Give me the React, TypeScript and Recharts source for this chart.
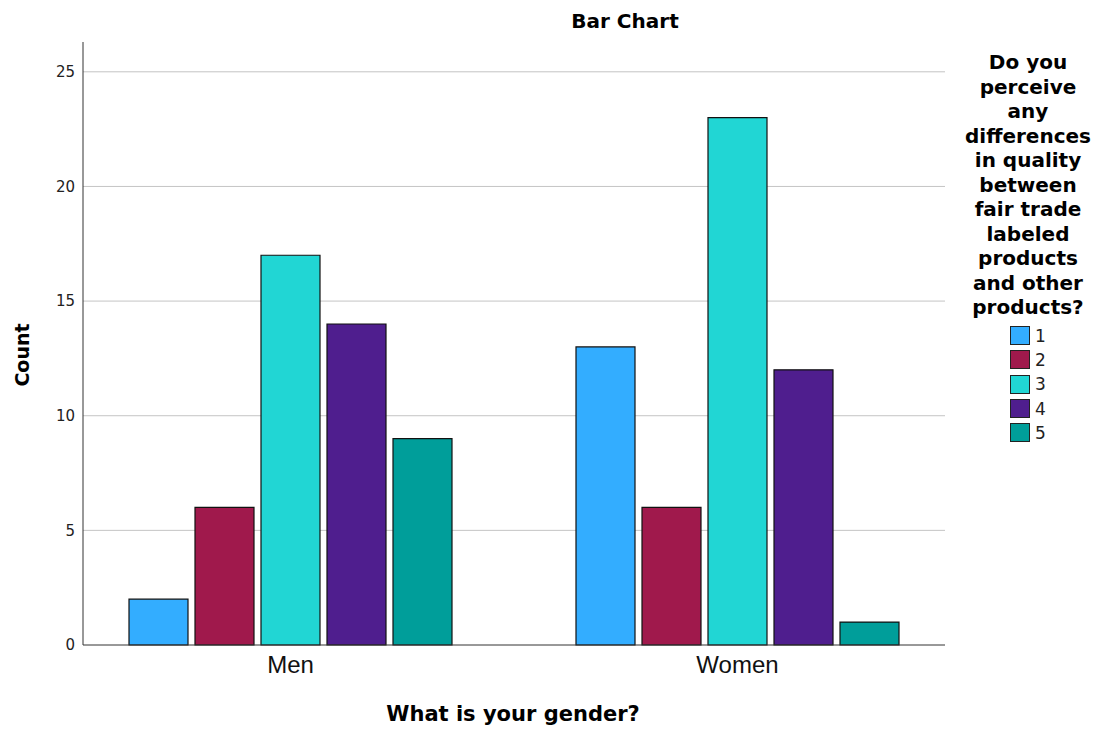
import { BarChart, Bar, XAxis, YAxis, CartesianGrid } from "recharts";

const genders = ["Men", "Women"];
const answers = ["1", "2", "3", "4", "5"];
const answer1 = [2, 13];
const answer2 = [6, 6];
const answer3 = [17, 23];
const answer4 = [14, 12];
const answer5 = [9, 1];
const yTicks = [0, 5, 10, 15, 20, 25];
const colors = ["#33adff", "#a0194c", "#21d6d4", "#4f1e8e", "#009e9a"];
const legendTitle = [
  "Do you",
  "perceive",
  "any",
  "differences",
  "in quality",
  "between",
  "fair trade",
  "labeled",
  "products",
  "and other",
  "products?",
];

const series = [answer1, answer2, answer3, answer4, answer5];

const data = genders.map((g, i) => {
  const row: Record<string, string | number> = { gender: g };
  answers.forEach((a, k) => {
    row["a" + a] = series[k][i];
  });
  return row;
});

const font = "'DejaVu Sans', sans-serif";

const LegendBox = () => (
  <div
    style={{
      position: "absolute",
      left: 955,
      top: 50,
      fontFamily: font,
      width: 146,
      textAlign: "center",
    }}
  >
    <div style={{ fontWeight: "bold", fontSize: 20, lineHeight: "24.5px", color: "#000" }}>
      {legendTitle.map((t) => (
        <div key={t}>{t}</div>
      ))}
    </div>
    <div style={{ marginTop: 4, display: "inline-block", textAlign: "left" }}>
      {answers.map((a, k) => (
        <div key={a} style={{ display: "flex", alignItems: "center", height: 24.3 }}>
          <span
            style={{
              display: "inline-block",
              width: 18,
              height: 17,
              background: colors[k],
              border: "1px solid #222",
              marginRight: 5,
            }}
          />
          <span style={{ fontSize: 17, color: "#222" }}>{a}</span>
        </div>
      ))}
    </div>
  </div>
);

export default function App() {
  return (
    <div style={{ position: "absolute", left: 0, top: 0, width: 1106, height: 729, background: "#fff" }}>
      <div
        style={{
          position: "absolute",
          left: 525,
          width: 200,
          top: 9,
          textAlign: "center",
          fontFamily: font,
          fontWeight: "bold",
          fontSize: 20,
        }}
      >
        Bar Chart
      </div>
      <div
        style={{
          position: "absolute",
          left: 22,
          top: 355,
          transform: "translate(-50%, -50%) rotate(-90deg)",
          fontFamily: font,
          fontWeight: "bold",
          fontSize: 19,
        }}
      >
        Count
      </div>
      <div
        style={{
          position: "absolute",
          left: 313,
          width: 400,
          top: 702,
          textAlign: "center",
          fontFamily: font,
          fontWeight: "bold",
          fontSize: 21,
        }}
      >
        What is your gender?
      </div>
      <BarChart
        width={1106}
        height={729}
        data={data}
        margin={{ top: 42, right: 161, bottom: 44, left: 43 }}
        barSize={59}
        barGap={7}
      >
        <CartesianGrid
          vertical={false}
          horizontalValues={[5, 10, 15, 20, 25]}
          stroke="#c4c4c4"
          strokeWidth={1}
        />
        <XAxis
          dataKey="gender"
          height={40}
          padding={{ left: -16, right: -16 }}
          tickLine={false}
          tickSize={6}
          tickMargin={5}
          stroke="#333"
          tick={{ fill: "#111", fontSize: 24, fontFamily: "'Liberation Sans', sans-serif" }}
        />
        <YAxis
          width={40}
          domain={[0, 26.3]}
          ticks={yTicks}
          tickLine={false}
          tickSize={6}
          tickMargin={2}
          stroke="#333"
          tick={{ fill: "#222", fontSize: 15, fontFamily: font }}
        />
        {answers.map((a, k) => (
          <Bar
            key={a}
            dataKey={"a" + a}
            name={a}
            fill={colors[k]}
            stroke="#111"
            strokeWidth={1.2}
            isAnimationActive={false}
          />
        ))}
      </BarChart>
      <LegendBox />
    </div>
  );
}
